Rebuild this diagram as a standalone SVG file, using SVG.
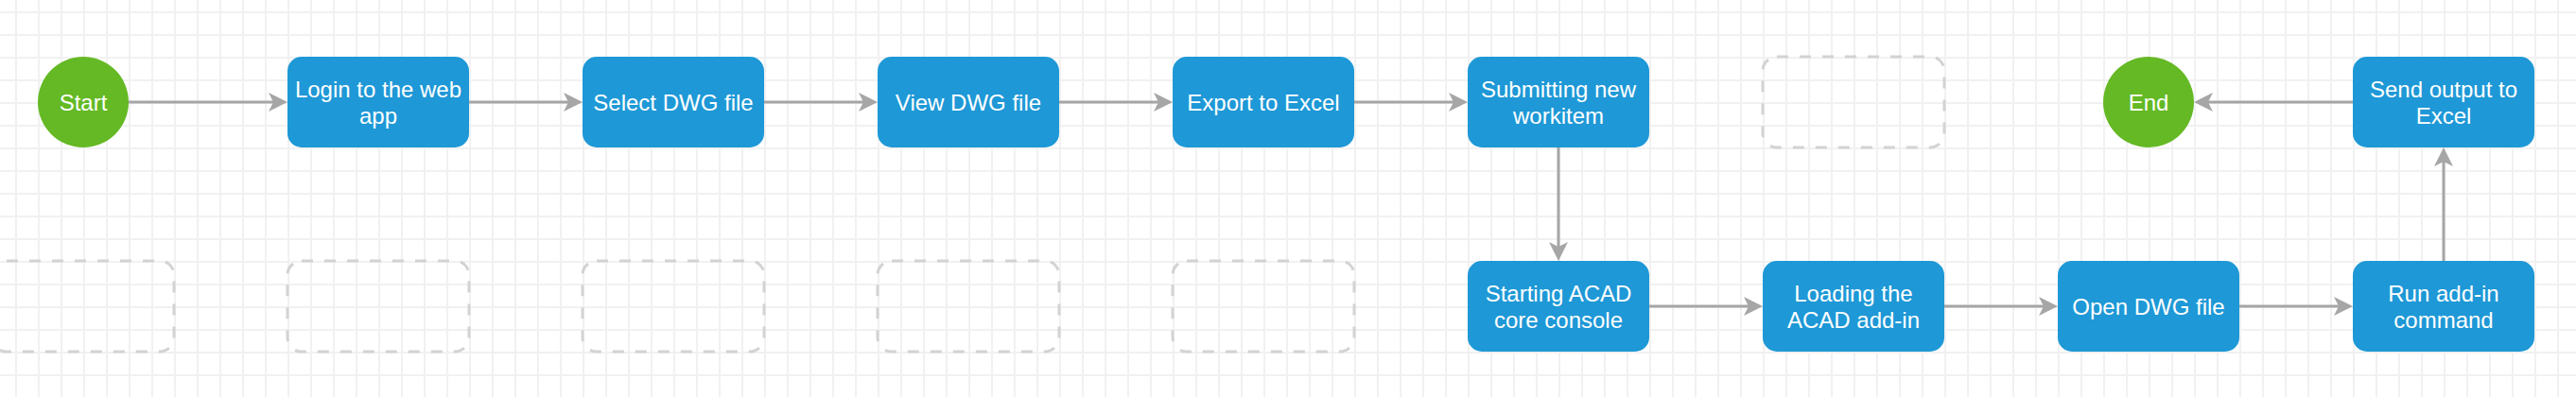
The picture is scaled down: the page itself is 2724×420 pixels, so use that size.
<svg xmlns="http://www.w3.org/2000/svg" width="2724" height="420" viewBox="0 0 2724 420">
  <style>
    .box { fill: #1E98D6; }
    .term { fill: #64B924; }
    .ghost { fill: none; stroke: #D3D3D3; stroke-width: 3; stroke-dasharray: 12 12; }
    .lbl { font-family: "Liberation Sans", Arial, Helvetica, sans-serif; font-size: 24px; fill: #FFFFFF; text-anchor: middle; }
    .conn { fill: none; stroke: #A6A6A6; stroke-width: 3; marker-end: url(#arrow); }
  </style>
  <defs>
    <pattern id="grid" patternUnits="userSpaceOnUse" x="5" y="1" width="24" height="24">
      <path d="M12,0 V24 M0,12 H24" stroke="#F1F1F1" stroke-width="2" fill="none"/>
    </pattern>
    <marker id="arrow" viewBox="0 0 20 20" markerWidth="20" markerHeight="20" markerUnits="userSpaceOnUse" refX="5" refY="10" orient="auto">
      <path d="M20,10 L0,0 L5,10 L0,20 Z" fill="#A6A6A6"/>
    </marker>
  </defs>

  <rect x="0" y="0" width="2724" height="420" fill="#FFFFFF"/>
  <rect x="0" y="0" width="2724" height="420" fill="url(#grid)"/>

  <g id="connectors">
    <line class="conn" x1="136" y1="108" x2="289" y2="108"/>
    <line class="conn" x1="496" y1="108" x2="601" y2="108"/>
    <line class="conn" x1="808" y1="108" x2="913" y2="108"/>
    <line class="conn" x1="1120" y1="108" x2="1225" y2="108"/>
    <line class="conn" x1="1432" y1="108" x2="1537" y2="108"/>
    <line class="conn" x1="1648" y1="156" x2="1648" y2="261"/>
    <line class="conn" x1="1744" y1="324" x2="1849" y2="324"/>
    <line class="conn" x1="2056" y1="324" x2="2161" y2="324"/>
    <line class="conn" x1="2368" y1="324" x2="2473" y2="324"/>
    <line class="conn" x1="2584" y1="276" x2="2584" y2="171"/>
    <line class="conn" x1="2488" y1="108" x2="2335" y2="108"/>
  </g>

  <g id="start">
    <circle class="term" cx="88" cy="108" r="48"/>
    <text class="lbl" x="88" y="116.5">Start</text>
  </g>
  <g id="login">
    <rect class="box" x="304" y="60" width="192" height="96" rx="15"/>
    <text class="lbl" x="400" y="102.5">Login to the web</text>
    <text class="lbl" x="400" y="131">app</text>
  </g>
  <g id="select-dwg">
    <rect class="box" x="616" y="60" width="192" height="96" rx="15"/>
    <text class="lbl" x="712" y="116.5">Select DWG file</text>
  </g>
  <g id="view-dwg">
    <rect class="box" x="928" y="60" width="192" height="96" rx="15"/>
    <text class="lbl" x="1024" y="116.5">View DWG file</text>
  </g>
  <g id="export-excel">
    <rect class="box" x="1240" y="60" width="192" height="96" rx="15"/>
    <text class="lbl" x="1336" y="116.5">Export to Excel</text>
  </g>
  <g id="submitting">
    <rect class="box" x="1552" y="60" width="192" height="96" rx="15"/>
    <text class="lbl" x="1648" y="102.5">Submitting new</text>
    <text class="lbl" x="1648" y="131">workitem</text>
  </g>
  <g id="placeholder-top">
    <rect class="ghost" x="1864" y="60" width="192" height="96" rx="15"/>
  </g>
  <g id="end">
    <circle class="term" cx="2272" cy="108" r="48"/>
    <text class="lbl" x="2272" y="116.5">End</text>
  </g>
  <g id="send-output">
    <rect class="box" x="2488" y="60" width="192" height="96" rx="15"/>
    <text class="lbl" x="2584" y="102.5">Send output to</text>
    <text class="lbl" x="2584" y="131">Excel</text>
  </g>

  <g id="placeholder-b0">
    <rect class="ghost" x="-8" y="276" width="192" height="96" rx="15"/>
  </g>
  <g id="placeholder-b1">
    <rect class="ghost" x="304" y="276" width="192" height="96" rx="15"/>
  </g>
  <g id="placeholder-b2">
    <rect class="ghost" x="616" y="276" width="192" height="96" rx="15"/>
  </g>
  <g id="placeholder-b3">
    <rect class="ghost" x="928" y="276" width="192" height="96" rx="15"/>
  </g>
  <g id="placeholder-b4">
    <rect class="ghost" x="1240" y="276" width="192" height="96" rx="15"/>
  </g>
  <g id="starting-acad">
    <rect class="box" x="1552" y="276" width="192" height="96" rx="15"/>
    <text class="lbl" x="1648" y="318.5">Starting ACAD</text>
    <text class="lbl" x="1648" y="347">core console</text>
  </g>
  <g id="loading-addin">
    <rect class="box" x="1864" y="276" width="192" height="96" rx="15"/>
    <text class="lbl" x="1960" y="318.5">Loading the</text>
    <text class="lbl" x="1960" y="347">ACAD add-in</text>
  </g>
  <g id="open-dwg">
    <rect class="box" x="2176" y="276" width="192" height="96" rx="15"/>
    <text class="lbl" x="2272" y="332.5">Open DWG file</text>
  </g>
  <g id="run-addin">
    <rect class="box" x="2488" y="276" width="192" height="96" rx="15"/>
    <text class="lbl" x="2584" y="318.5">Run add-in</text>
    <text class="lbl" x="2584" y="347">command</text>
  </g>
</svg>
